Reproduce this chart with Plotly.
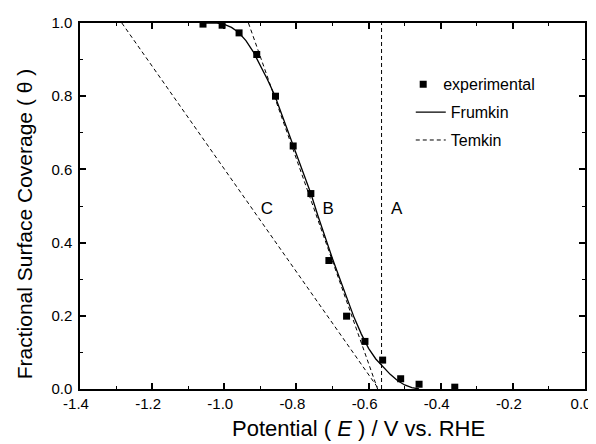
import plotly.graph_objects as go

# Experimental data
exp_E = [-1.059, -1.006, -0.959, -0.910, -0.858, -0.809, -0.760, -0.710, -0.661, -0.610, -0.561, -0.511, -0.460, -0.361]
exp_theta = [0.997, 0.994, 0.973, 0.914, 0.800, 0.664, 0.534, 0.351, 0.199, 0.130, 0.079, 0.028, 0.013, 0.005]

# Frumkin fit
frum_E = [-1.06, -1.02, -1.00, -0.98, -0.96, -0.94, -0.92, -0.90, -0.88, -0.86, -0.84, -0.82, -0.80,
          -0.78, -0.76, -0.74, -0.72, -0.70, -0.68, -0.66, -0.64, -0.62, -0.60, -0.58, -0.56,
          -0.54, -0.52, -0.50, -0.48, -0.46]
frum_theta = [1.0, 1.0, 0.996, 0.988, 0.974, 0.952, 0.922, 0.885, 0.845, 0.802, 0.748, 0.693, 0.640,
              0.588, 0.534, 0.472, 0.412, 0.356, 0.302, 0.248, 0.195, 0.150, 0.111, 0.082, 0.060,
              0.040, 0.023, 0.011, 0.004, 0.0]

# Temkin lines A, B, C
temA_E = [-0.564, -0.564]
temA_theta = [0.0, 1.0]
temB_E = [-0.933, -0.575]
temB_theta = [1.0, 0.0]
temC_E = [-1.284, -0.572]
temC_theta = [1.0, 0.0]

# Curve labels
label_text = ["C", "B", "A"]
label_E = [-0.882, -0.712, -0.522]
label_theta = [0.489, 0.489, 0.489]

x_tick_vals = [-1.4, -1.2, -1.0, -0.8, -0.6, -0.4, -0.2, 0.0]
x_tick_text = ["-1.4", "-1.2", "-1.0", "-0.8", "-0.6", "-0.4", "-0.2", "0.0"]
y_tick_vals = [0.0, 0.2, 0.4, 0.6, 0.8, 1.0]
y_tick_text = ["0.0", "0.2", "0.4", "0.6", "0.8", "1.0"]

x_title = "Potential ( <i>E</i> ) / V vs. RHE"
y_title = "Fractional Surface Coverage ( θ )"

FONT = "Liberation Sans, Arial, sans-serif"

fig = go.Figure()
fig.add_trace(go.Scatter(x=temA_E, y=temA_theta, mode="lines", showlegend=False,
                         line=dict(color="black", width=1, dash="4px,3px")))
fig.add_trace(go.Scatter(x=temC_E, y=temC_theta, mode="lines", showlegend=False,
                         line=dict(color="black", width=1, dash="4px,3px")))
fig.add_trace(go.Scatter(x=exp_E, y=exp_theta, mode="markers", name="experimental",
                         legend="legend", legendgroup="g1",
                         marker=dict(symbol="square", size=7, color="black")))
fig.add_trace(go.Scatter(x=frum_E, y=frum_theta, mode="lines", name="Frumkin",
                         legend="legend2", legendgroup="g2",
                         line=dict(color="black", width=1.3)))
fig.add_trace(go.Scatter(x=temB_E, y=temB_theta, mode="lines", name="Temkin",
                         legend="legend2", legendgroup="g3",
                         line=dict(color="black", width=1, dash="4px,3px")))
fig.add_trace(go.Scatter(x=label_E, y=label_theta, mode="text", text=label_text, showlegend=False,
                         textfont=dict(family=FONT, size=17, color="black")))

axis_common = dict(
    showline=True, linecolor="black", linewidth=1.5, mirror="allticks",
    ticks="inside", ticklen=6, tickwidth=1.5, tickcolor="black",
    showgrid=False, zeroline=False, automargin=False,
    tickfont=dict(family=FONT, size=15, color="black"),
    minor=dict(ticks="inside", ticklen=3, tickwidth=1.2, tickcolor="black", showgrid=False),
)

fig.update_xaxes(range=[-1.4, 0.0], tickvals=x_tick_vals, ticktext=x_tick_text,
                 ticklabelshift=-4, **axis_common)
fig.update_xaxes(minor_dtick=0.1, minor_tick0=0)
fig.update_yaxes(range=[0.0, 1.0], tickvals=y_tick_vals, ticktext=y_tick_text,
                 ticklabelstandoff=3, **axis_common)
fig.update_yaxes(minor_dtick=0.1, minor_tick0=0)

fig.add_annotation(text=x_title, xref="paper", yref="paper", x=0.551, y=-0.107,
                   xanchor="center", yanchor="middle", showarrow=False,
                   font=dict(family=FONT, size=22, color="black"))
fig.add_annotation(text=y_title, xref="paper", yref="paper", x=-0.111, y=0.45,
                   xanchor="center", yanchor="middle", showarrow=False, textangle=-90,
                   font=dict(family=FONT, size=21, color="black"))

legend_font = dict(family=FONT, size=16, color="black")
fig.update_layout(
    width=588, height=436,
    margin=dict(l=72, r=11, t=15, b=55, autoexpand=False),
    plot_bgcolor="white", paper_bgcolor="white",
    font=dict(family=FONT, color="black"),
    legend=dict(x=0.64, y=0.8325, xanchor="left", yanchor="middle",
                bgcolor="rgba(0,0,0,0)", borderwidth=0, font=legend_font, itemwidth=30),
    legend2=dict(x=0.655, y=0.7178, xanchor="left", yanchor="middle",
                 bgcolor="rgba(0,0,0,0)", borderwidth=0, font=legend_font, itemwidth=30,
                 tracegroupgap=4),
)

fig.write_html("out.html")
